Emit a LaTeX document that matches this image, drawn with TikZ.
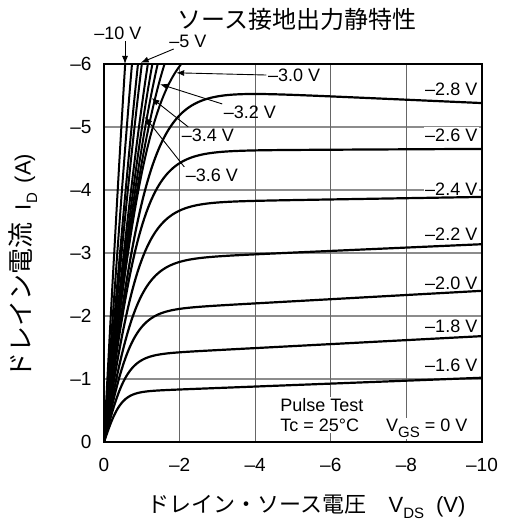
\documentclass[tikz,border=0pt]{standalone}
\usepackage{fontspec}
\setmainfont{Liberation Sans}
\newfontfamily\jpfont{Noto Sans CJK JP}
\usetikzlibrary{arrows.meta}
\newcommand{\dsub}[1]{\raisebox{-0.3em}{\fontsize{15}{15}\selectfont #1}}
\tikzset{
  frame_box/.style = {line width=2.4pt, black},
  grid_h/.style = {line width=1.2pt, black!45},% lignes horizontales
  grid_v/.style = {line width=0.9pt, black!60},% lignes verticales
  curve_sat/.style = {line width=2.2pt, black, smooth},% courbes saturees
  curve_lin/.style = {line width=2pt, black, smooth},% courbes raides
  vlabel/.style = {font=\fontsize{18}{20}\selectfont, inner sep=1.5pt},
  vlabel_r/.style = {vlabel, fill=white, anchor=east},
  tick_x/.style = {font=\fontsize{19}{21}\selectfont},
  tick_y/.style = {font=\fontsize{19}{21}\selectfont, anchor=east},
  callout/.style = {line width=0.9pt, -{Latex[length=8pt,width=6pt]}}
}

\begin{document}
\begin{tikzpicture} [x=37.8pt, y=63pt]
		\useasboundingbox (-104pt,-85pt) rectangle (402pt,442pt);
		% grille
		\foreach \gy in {1,...,5}
		  \draw[grid_h] (0,\gy) -- (10,\gy);
		\foreach \gx in {2,4,6,8}
		  \draw[grid_v] (\gx,0) -- (\gx,6);
		% etiquettes a droite
		\node [vlabel_r] (v28) at (9.92,5.603) {–2.8 V};
		\node [vlabel_r] (v26) at (9.92,4.873) {–2.6 V};
		\node [vlabel_r] (v24) at (9.92,4.016) {–2.4 V};
		\node [vlabel_r] (v22) at (9.92,3.302) {–2.2 V};
		\node [vlabel_r] (v20) at (9.92,2.524) {–2.0 V};
		\node [vlabel_r] (v18) at (9.92,1.841) {–1.8 V};
		\node [vlabel_r] (v16) at (9.92,1.222) {–1.6 V};
		\node [vlabel, fill=white, anchor=west, align=left] (pulse) at (4.62,0.43)
		  {Pulse Test\\Tc = 25°C};
		\node [vlabel, fill=white, anchor=base west] (vgs) at (7.42,0.16)
		  {V\dsub{GS} = 0 V};
		% courbes
		\begin{scope}
		  \clip (0,0) rectangle (10,6);
		  \foreach \a/\k/\l in {0.787/0.45/0.0296, 1.364/0.6/0.0232, 2.067/0.75/0.0161,
		      2.873/0.9/0.00928, 3.79/1.0/0.00264, 4.62/1.05/0.0007, 5.646/1.22/-0.00472}
		    \draw[curve_sat] plot[domain=0:10, samples=160]
		      (\x, {\a*tanh(min(\x/\k,8))*(1+(\l)*\x)});
		  \foreach \a/\k in {6.5/1.27, 7.6/1.497, 8.5/1.616, 9.5/1.72, 10.5/1.785,
		      12/1.82, 13/1.80, 14/1.615, 16/1.42}
		    \draw[curve_lin] plot[domain=0:2.3, samples=60]
		      (\x, {\a*tanh(min(\x/\k,8))});
		\end{scope}
		\draw[frame_box] (0,0) rectangle (10,6);
		% graduations
		\foreach \tx/\tl in {0/0, 2/–2, 4/–4, 6/–6, 8/–8, 10/–10}
		  \node [tick_x] (tx\tx) at (\tx,-0.365) {\tl};
		\foreach \ty/\tl in {0/0, 1/–1, 2/–2, 3/–3, 4/–4, 5/–5, 6/–6}
		  \node [tick_y] (ty\ty) at (-0.238,\ty) {\tl};
		% titres
		\node (title) at (5.106,6.714) {\jpfont\fontsize{24}{26}\selectfont ソース接地出力静特性};
		\node (xlab) at (5.36,-1.03) {{\jpfont\fontsize{22}{24}\selectfont ドレイン・ソース電圧}\hspace{22pt}%
		  {\fontsize{22}{24}\selectfont V\dsub{DS}\hspace{12pt}(V)}};
		\node [rotate=90] (ylab) at (-2.143,2.794) {{\jpfont\fontsize{26}{28}\selectfont ドレイン電流}\hspace{12pt}%
		  {\fontsize{22}{24}\selectfont I\dsub{D}\hspace{10pt}(A)}};
		% fleches
		\coordinate (t100) at (0.556,6.0);
		\coordinate (t50) at (0.97,6.02);
		\coordinate (t30) at (1.91,5.86);
		\coordinate (t32) at (1.48,5.68);
		\coordinate (t34) at (1.26,5.46);
		\coordinate (t36) at (1.08,5.16);
		\node [vlabel] (v100) at (0.37,6.49) {–10 V};
		\node [vlabel] (v50) at (2.22,6.365) {–5 V};
		\node [vlabel] (v30) at (5.03,5.825) {–3.0 V};
		\node [vlabel] (v32) at (3.86,5.238) {–3.2 V};
		\node [vlabel] (v34) at (2.75,4.873) {–3.4 V};
		\node [vlabel] (v36) at (2.857,4.238) {–3.6 V};
		\draw[callout] (v100.south -| t100) -- (t100);
		\draw[callout] ([xshift=6pt]v50.south west) -- (t50);
		\draw[callout] (v30.west) -- (t30);
		\draw[callout] (v32.north west) -- (t32);
		\draw[callout] ([xshift=8pt]v34.north west) -- (t34);
		\draw[callout] (v36.north west) -- (t36);
	\end{tikzpicture}
\end{document}
